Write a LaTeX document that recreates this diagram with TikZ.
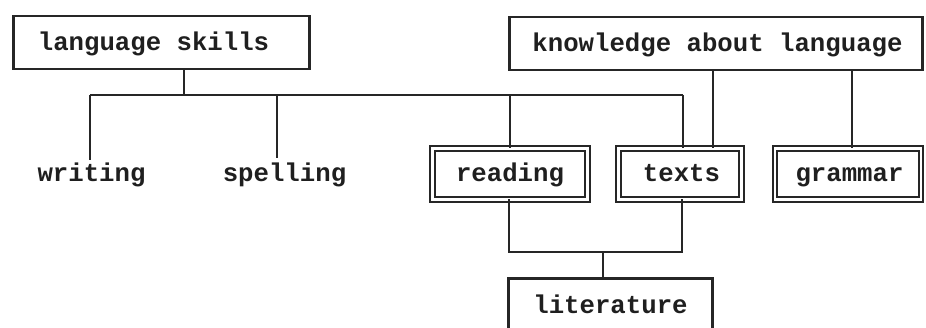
\documentclass[tikz,border=0pt]{standalone}
\usepackage{fontspec}
\newfontfamily\boxmono{Liberation Mono}
\tikzset{
  lbl/.style={font=\fontsize{25.7}{30}\selectfont\boxmono\bfseries, text=black!88,
    inner sep=0pt, outer sep=0pt, text height=20pt, text depth=4pt},
  sbox/.style={lbl, draw=black!85, line width=2.2pt, minimum height=53pt},
  dbox/.style={lbl, draw=black!85, line width=2.1pt, double=white, double distance=2.6pt, minimum height=51pt},
  conn/.style={draw=black!85, line width=2pt}
}
\begin{document}
\begin{tikzpicture}[x=1pt,y=-1pt]
\useasboundingbox (0,0) rectangle (926,328);
\clip (0,0) rectangle (926,328);
\fill[white] (0,0) rectangle (926,328);
% boxes
\node[sbox, minimum width=296pt] (ls) at (161.5,42.5) {language skills\kern16pt};
\node[sbox, minimum width=413pt] (kal) at (716,43.5) {\kern3pt knowledge about language};
\node[dbox, minimum width=155pt] (rd) at (510,174) {reading};
\node[dbox, minimum width=123pt] (tx) at (680,174) {\kern3pt texts};
\node[dbox, minimum width=146pt] (gr) at (848,174) {\kern3pt grammar};
\node[sbox, minimum width=204pt, minimum height=55pt] (lit) at (610.5,306) {literature};
% plain labels
\node[lbl, anchor=base] (wr) at (91.5,182) {writing};
\node[lbl, anchor=base] (sp) at (284.5,182) {spelling};
% coordinates of the upper bus
\coordinate (top) at (184,95);
\coordinate (bw) at (90,95);
\coordinate (bs) at (277,95);
\coordinate (br) at (510,95);
\coordinate (bt) at (683,95);
\coordinate (wend) at (90,160);
\coordinate (send) at (277,158);
% connectors
\draw[conn] (ls.south -| top) -- (top);
\draw[conn] (bw) -- (bt);
\draw[conn] (bw) -- (wend);
\draw[conn] (bs) -- (send);
\draw[conn] (br) -- (rd.north -| br);
\draw[conn] (bt) -- (tx.north -| bt);
\draw[conn] (kal.south -| 713,0) -- (tx.north -| 713,0);
\draw[conn] (kal.south -| 852,0) -- (gr.north -| 852,0);
% lower bus
\coordinate (lr) at (509,252);
\coordinate (lt) at (682,252);
\coordinate (lm) at (603,252);
\draw[conn] (rd.south -| lr) -- (lr) -- (lt) -- (tx.south -| lt);
\draw[conn] (lm) -- (lit.north -| lm);
\end{tikzpicture}
\end{document}
